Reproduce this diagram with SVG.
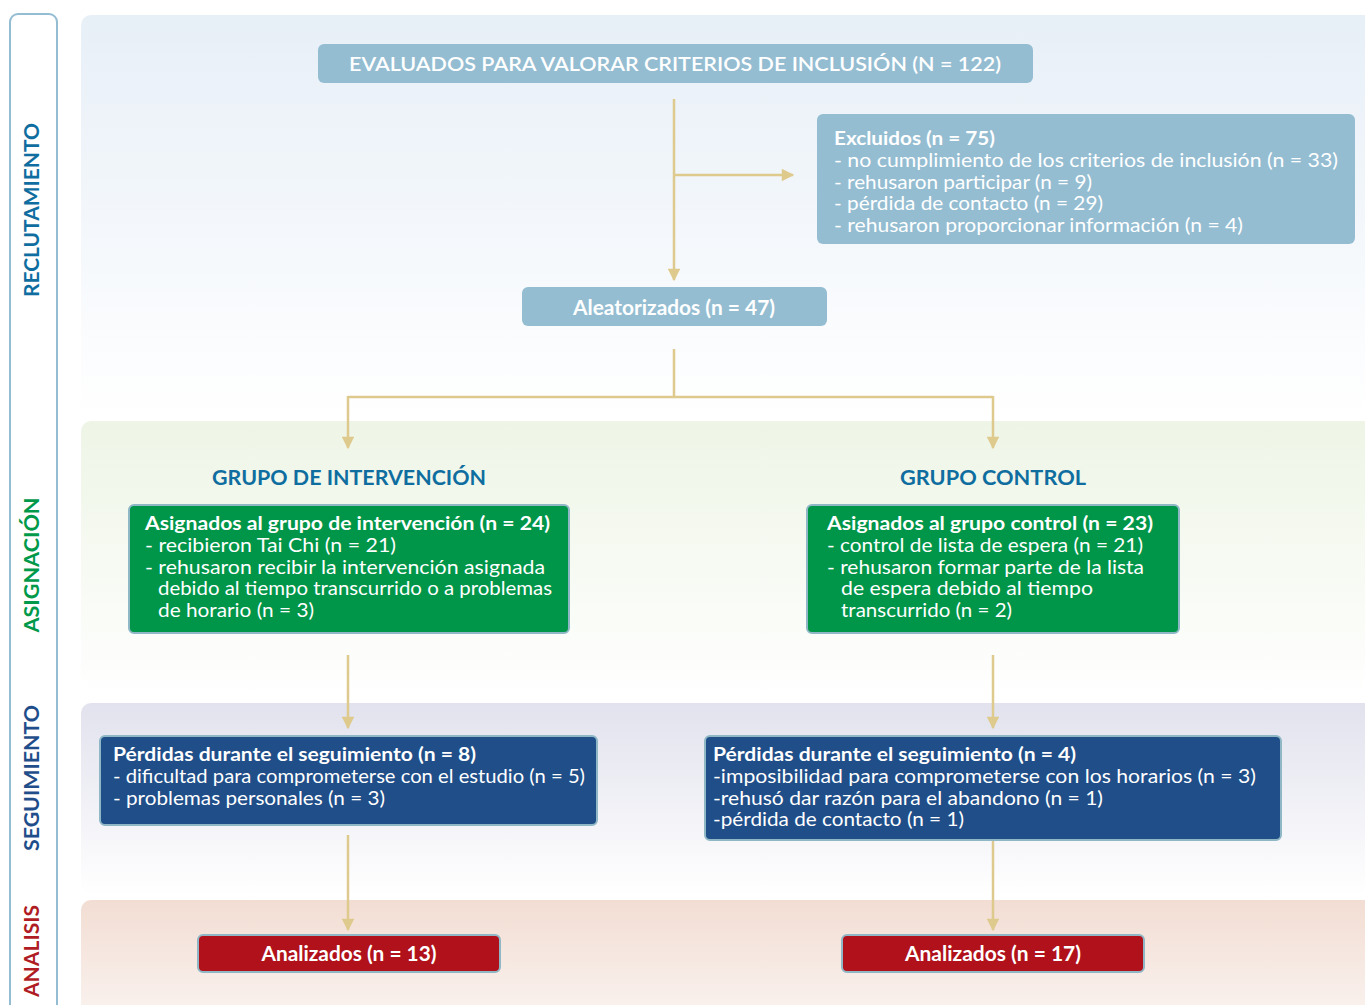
<svg xmlns="http://www.w3.org/2000/svg" width="1365" height="1005" viewBox="0 0 1365 1005">
<defs>
<linearGradient id="g1" x1="0" y1="0" x2="0" y2="1"><stop offset="0" stop-color="#e7eff7"/><stop offset="1" stop-color="#ffffff"/></linearGradient>
<linearGradient id="g2" x1="0" y1="0" x2="0" y2="1"><stop offset="0" stop-color="#eef5e6"/><stop offset="1" stop-color="#ffffff"/></linearGradient>
<linearGradient id="g3" x1="0" y1="0" x2="0" y2="1"><stop offset="0" stop-color="#e1e2ed"/><stop offset="1" stop-color="#ffffff"/></linearGradient>
<linearGradient id="g4" x1="0" y1="0" x2="0" y2="1"><stop offset="0" stop-color="#f2ddd3"/><stop offset="1" stop-color="#fbf5f2"/></linearGradient>
<marker id="ah" viewBox="0 0 10 10" refX="9" refY="5" markerWidth="5.5" markerHeight="5" orient="auto" markerUnits="strokeWidth"><path d="M0,0 L10,5 L0,10 z" fill="#dfca8e"/></marker>
</defs>
<style>
text{font-family:Lato,"Open Sans","Liberation Sans",sans-serif;fill:#ffffff;font-size:19px}
.b{font-weight:700}
.lane{font-weight:700;font-size:21px}
.grp{font-weight:700;font-size:21px;fill:#0f6e9f}
.lt{fill:#94bdd2}
.gr{fill:#009649;stroke:#8fb7c6;stroke-width:2}
.bl{fill:#1f4e89;stroke:#8fb7c6;stroke-width:2}
.rd{fill:#b0111a;stroke:#8fb7c6;stroke-width:2}
.c{stroke:#dfca8e;stroke-width:2.5;fill:none}
</style>
<rect width="1365" height="1005" fill="#ffffff"/>
<g id="bands">
<rect x="81" y="15" width="1300" height="402" rx="10" fill="url(#g1)"/>
<rect x="81" y="421" width="1300" height="278" rx="10" fill="url(#g2)"/>
<rect x="81" y="703" width="1300" height="192" rx="10" fill="url(#g3)"/>
<rect x="81" y="900" width="1300" height="130" rx="10" fill="url(#g4)"/>
</g>
<g id="lanes">
<rect x="10" y="14" width="47" height="1060" rx="8" fill="none" stroke="#94bdd3" stroke-width="2"/>
<text class="lane" transform="translate(39,210) rotate(-90)" text-anchor="middle" style="fill:#0f6e9f" textLength="174" lengthAdjust="spacingAndGlyphs">RECLUTAMIENTO</text>
<text class="lane" transform="translate(39,565) rotate(-90)" text-anchor="middle" style="fill:#00994a" textLength="135" lengthAdjust="spacingAndGlyphs">ASIGNACIÓN</text>
<text class="lane" transform="translate(39,778) rotate(-90)" text-anchor="middle" style="fill:#1f4e8a" textLength="146" lengthAdjust="spacingAndGlyphs">SEGUIMIENTO</text>
<text class="lane" transform="translate(39,951) rotate(-90)" text-anchor="middle" style="fill:#b01c23" textLength="92" lengthAdjust="spacingAndGlyphs">ANALISIS</text>
</g>
<g id="connectors">
<path class="c" d="M674,99 V280" marker-end="url(#ah)"/>
<path class="c" d="M674,175 H793" marker-end="url(#ah)"/>
<path class="c" d="M674,349 V397 M348,397 H993"/>
<path class="c" d="M348,396 V448" marker-end="url(#ah)"/>
<path class="c" d="M993,396 V448" marker-end="url(#ah)"/>
<path class="c" d="M348,655 V728" marker-end="url(#ah)"/>
<path class="c" d="M993,655 V728" marker-end="url(#ah)"/>
<path class="c" d="M348,835 V930" marker-end="url(#ah)"/>
<path class="c" d="M993,835 V930" marker-end="url(#ah)"/>
</g>
<g id="evaluados">
<rect class="lt" x="318" y="44" width="715" height="39" rx="6"/>
<text x="675" y="71" text-anchor="middle" style="font-weight:600;font-size:20px" textLength="652" lengthAdjust="spacingAndGlyphs">EVALUADOS PARA VALORAR CRITERIOS DE INCLUSIÓN (N = 122)</text>
</g>
<g id="excluidos">
<rect class="lt" x="817" y="114" width="538" height="130" rx="6"/>
<text class="b" x="834" y="145" textLength="161" lengthAdjust="spacingAndGlyphs">Excluidos (n = 75)</text>
<text x="834" y="167" textLength="504" lengthAdjust="spacingAndGlyphs">- no cumplimiento de los criterios de inclusión (n = 33)</text>
<text x="834" y="189" textLength="258" lengthAdjust="spacingAndGlyphs">- rehusaron participar (n = 9)</text>
<text x="834" y="210" textLength="269" lengthAdjust="spacingAndGlyphs">- pérdida de contacto (n = 29)</text>
<text x="834" y="232" textLength="409" lengthAdjust="spacingAndGlyphs">- rehusaron proporcionar información (n = 4)</text>
</g>
<g id="aleatorizados">
<rect class="lt" x="522" y="287" width="305" height="39" rx="6"/>
<text class="b" x="674" y="315" text-anchor="middle" style="font-size:20px" textLength="202" lengthAdjust="spacingAndGlyphs">Aleatorizados (n = 47)</text>
</g>
<g id="grupo-intervencion">
<text class="grp" x="349" y="485" text-anchor="middle" textLength="274" lengthAdjust="spacingAndGlyphs">GRUPO DE INTERVENCIÓN</text>
</g>
<g id="grupo-control">
<text class="grp" x="993" y="485" text-anchor="middle" textLength="186" lengthAdjust="spacingAndGlyphs">GRUPO CONTROL</text>
</g>
<g id="asignados-intervencion">
<rect class="gr" x="129" y="505" width="440" height="128" rx="5"/>
<text class="b" x="145" y="530" textLength="405" lengthAdjust="spacingAndGlyphs">Asignados al grupo de intervención (n = 24)</text>
<text x="145" y="552" textLength="251" lengthAdjust="spacingAndGlyphs">- recibieron Tai Chi (n = 21)</text>
<text x="145" y="574" textLength="400" lengthAdjust="spacingAndGlyphs">- rehusaron recibir la intervención asignada</text>
<text x="158" y="595" textLength="394" lengthAdjust="spacingAndGlyphs">debido al tiempo transcurrido o a problemas</text>
<text x="158" y="617" textLength="156" lengthAdjust="spacingAndGlyphs">de horario (n = 3)</text>
</g>
<g id="asignados-control">
<rect class="gr" x="807" y="505" width="372" height="128" rx="5"/>
<text class="b" x="827" y="530" textLength="326" lengthAdjust="spacingAndGlyphs">Asignados al grupo control (n = 23)</text>
<text x="827" y="552" textLength="316" lengthAdjust="spacingAndGlyphs">- control de lista de espera (n = 21)</text>
<text x="827" y="574" textLength="317" lengthAdjust="spacingAndGlyphs">- rehusaron formar parte de la lista</text>
<text x="841" y="595" textLength="252" lengthAdjust="spacingAndGlyphs">de espera debido al tiempo</text>
<text x="841" y="617" textLength="171" lengthAdjust="spacingAndGlyphs">transcurrido (n = 2)</text>
</g>
<g id="perdidas-intervencion">
<rect class="bl" x="100" y="736" width="497" height="89" rx="5"/>
<text class="b" x="113" y="761" textLength="363" lengthAdjust="spacingAndGlyphs">Pérdidas durante el seguimiento (n = 8)</text>
<text x="113" y="783" textLength="472" lengthAdjust="spacingAndGlyphs">- dificultad para comprometerse con el estudio (n = 5)</text>
<text x="113" y="805" textLength="272" lengthAdjust="spacingAndGlyphs">- problemas personales (n = 3)</text>
</g>
<g id="perdidas-control">
<rect class="bl" x="705" y="736" width="576" height="104" rx="5"/>
<text class="b" x="713" y="761" textLength="363" lengthAdjust="spacingAndGlyphs">Pérdidas durante el seguimiento (n = 4)</text>
<text x="713" y="783" textLength="543" lengthAdjust="spacingAndGlyphs">-imposibilidad para comprometerse con los horarios (n = 3)</text>
<text x="713" y="805" textLength="390" lengthAdjust="spacingAndGlyphs">-rehusó dar razón para el abandono (n = 1)</text>
<text x="713" y="826" textLength="251" lengthAdjust="spacingAndGlyphs">-pérdida de contacto (n = 1)</text>
</g>
<g id="analizados-intervencion">
<rect class="rd" x="198" y="935" width="302" height="37" rx="5"/>
<text class="b" x="349" y="961" text-anchor="middle" style="font-size:20px" textLength="175" lengthAdjust="spacingAndGlyphs">Analizados (n = 13)</text>
</g>
<g id="analizados-control">
<rect class="rd" x="842" y="935" width="302" height="37" rx="5"/>
<text class="b" x="993" y="961" text-anchor="middle" style="font-size:20px" textLength="176" lengthAdjust="spacingAndGlyphs">Analizados (n = 17)</text>
</g>
</svg>
